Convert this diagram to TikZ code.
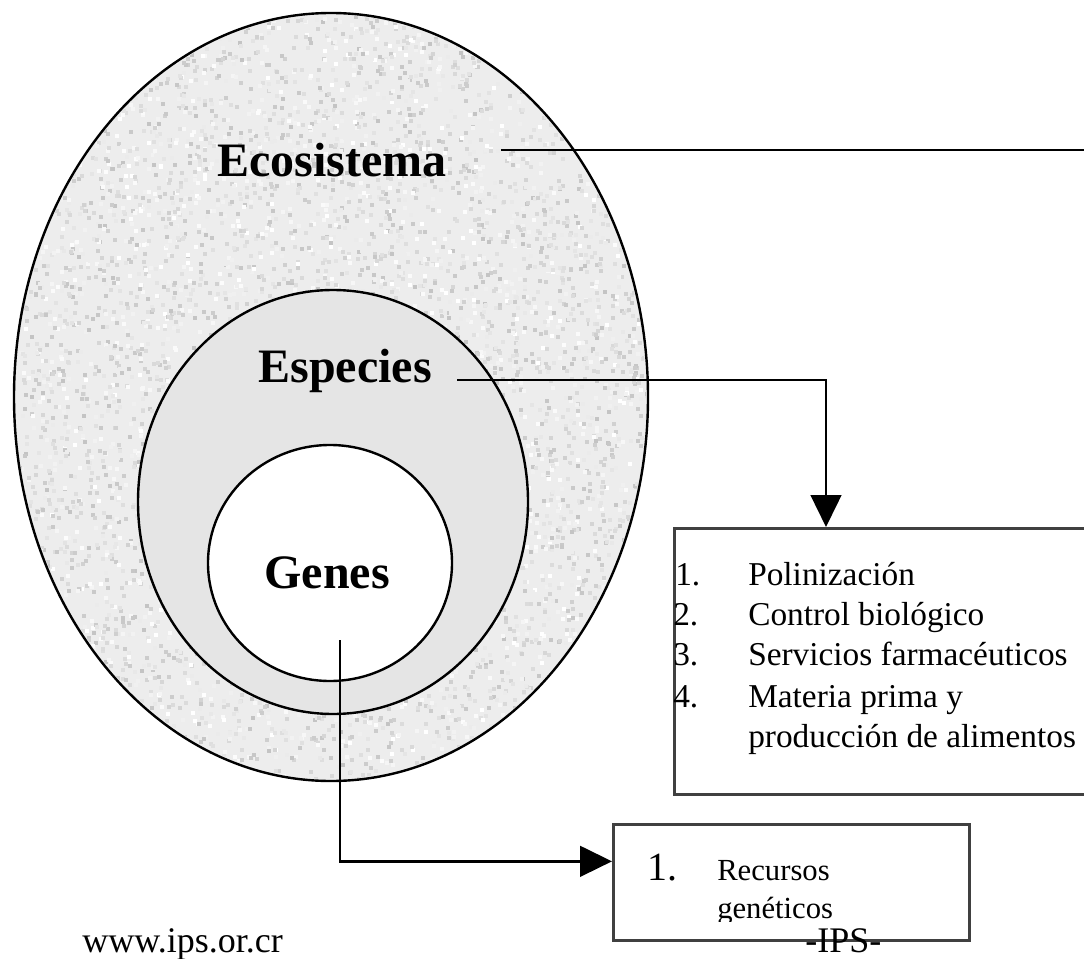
\documentclass[tikz,border=0pt]{standalone}
\usepackage{fontspec}
\setmainfont{Liberation Serif}
\usetikzlibrary{arrows.meta,positioning,calc,shapes.geometric}

\begin{document}
\begin{tikzpicture}[x=0.75pt,y=-0.75pt,
	ring/.style={ellipse,draw,line width=1.8pt,inner sep=0pt},
	title/.style={font=\fontsize{36}{40}\selectfont\bfseries,inner sep=0pt,anchor=base},
	item/.style={font=\fontsize{25}{30}\selectfont,inner sep=0pt,anchor=base west},
	small/.style={font=\fontsize{23}{28}\selectfont,inner sep=0pt,anchor=base west},
	box/.style={rectangle,draw=black!75,line width=2pt,inner sep=0pt,anchor=north west},
	conn/.style={line width=2pt},
	tip/.style={-{Triangle[length=24pt,width=23pt]}}]
	\useasboundingbox (0,0) rectangle (1084,959);
	\clip (0,0) rectangle (1084,959);
	% the three levels
	\node[ring,fill=black!7,minimum width=475.5pt,minimum height=576pt] (eco) at (331,397) {};
	\begin{scope}
		\clip (eco.center) ellipse [x radius=315,y radius=382];
		\pgfmathsetseed{11}
		\foreach \k in {1,...,7000} {
			\pgfmathsetmacro\px{15+634*rnd}
			\pgfmathsetmacro\py{13+768*rnd}
			\pgfmathtruncatemacro\sh{24*rnd}
			\fill[black!\sh] (\px,\py) rectangle ++(4,4);
		}
	\end{scope}
	\node[ring,fill=black!10,minimum width=292.5pt,minimum height=318pt] (esp) at (333,502) {};
	\node[ring,fill=white,minimum width=183pt,minimum height=177pt] (gen) at (330,563) {};
	\node[title] (ecol) at (332,177) {Ecosistema};
	\node[title] (espl) at (345,382) {Especies};
	\node[title] (genl) at (327,588) {Genes};
	% boxes
	\node[box,minimum width=450pt,minimum height=199.5pt] (servicios) at (673,527) {};
	\node[box,minimum width=267pt,minimum height=87pt] (recursos) at (612,823) {};
	\node[item] (n1) at (675,585) {1.};
	\node[item] (t1) at (748,585) {Polinización};
	\node[item] (n2) at (673,625) {2.};
	\node[item] (t2) at (748,625) {Control biológico};
	\node[item] (n3) at (673,665) {3.};
	\node[item] (t3) at (748,665) {Servicios farmacéuticos};
	\node[item] (n4) at (673,707) {4.};
	\node[item] (t4) at (748,707) {Materia prima y};
	\node[item] (t5) at (748,747) {producción de alimentos};
	\node[item,font=\fontsize{30}{34}\selectfont] (r1) at (647,880) {1.};
	\node[small] (rt1) at (717,880) {Recursos};
	\begin{scope}
		\clip (recursos.north west) rectangle (968,921);
		\node[small] (rt2) at (717,918) {genéticos};
	\end{scope}
	\node[item,font=\fontsize{27}{30}\selectfont] (web) at (82,952) {www.ips.or.cr};
	\node[item,font=\fontsize{27}{30}\selectfont] (ips) at (805,952) {-IPS-};
	% connectors
	\coordinate (ecoend) at (1084,150);
	\coordinate (genout) at (340,640);
	\draw[conn] ($(ecol.east |- ecoend)+(54,0)$) -- (ecoend);
	\draw[conn,tip] ([xshift=19pt,yshift=1.5pt]espl.base east) -| ([xshift=114.75pt]servicios.north west);
	\draw[conn,tip] (genout) |- ([yshift=15.75pt]recursos.west);
\end{tikzpicture}
\end{document}
